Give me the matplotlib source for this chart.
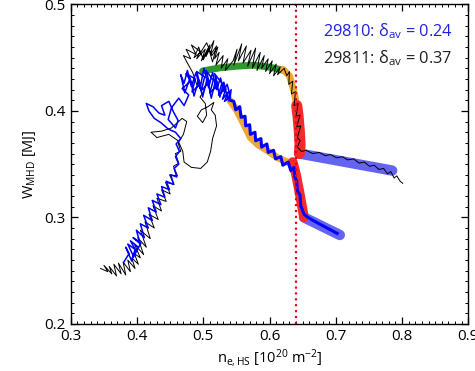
import numpy as np
import matplotlib
matplotlib.use("Agg")
import matplotlib.pyplot as plt
from matplotlib.ticker import MultipleLocator

plt.rcParams['font.family'] = ['Open Sans', 'DejaVu Sans']
plt.rcParams['mathtext.fontset'] = 'custom'
plt.rcParams['mathtext.rm'] = 'Open Sans'
plt.rcParams['mathtext.it'] = 'Open Sans:italic'

# --- smoothed phase bands, shot 29811 (upper branch) ---
green_up_x = [0.499, 0.525, 0.550, 0.576, 0.601, 0.622]
green_up_y = [0.4375, 0.4405, 0.442, 0.443, 0.441, 0.438]
orange_up_x = [0.620, 0.630, 0.637, 0.641, 0.643]
orange_up_y = [0.439, 0.433, 0.418, 0.405, 0.395]
red_up_x = [0.641, 0.643, 0.645, 0.646, 0.645]
red_up_y = [0.405, 0.395, 0.380, 0.368, 0.360]
blue_up_x = [0.645, 0.785]
blue_up_y = [0.360, 0.344]

# --- smoothed phase bands, shot 29810 (lower branch) ---
orange_lo_x = [0.540, 0.550, 0.560, 0.571, 0.583, 0.596, 0.612, 0.635]
orange_lo_y = [0.410, 0.401, 0.389, 0.375, 0.368, 0.363, 0.356, 0.350]
red_lo_x = [0.635, 0.640, 0.645, 0.652]
red_lo_y = [0.352, 0.340, 0.324, 0.300]
blue_lo_x = [0.652, 0.706]
blue_lo_y = [0.300, 0.2835]

# --- raw trace, shot 29811 (black) ---
k_x = [0.345, 0.356, 0.350, 0.362, 0.358, 0.369, 0.365, 0.376, 0.372, 0.383, 0.379, 0.390,
       0.386, 0.397, 0.392, 0.402, 0.396, 0.405,
       0.396, 0.410, 0.401, 0.414, 0.405, 0.420, 0.412, 0.426, 0.418, 0.432, 0.424, 0.437,
       0.430, 0.444, 0.437, 0.450, 0.443, 0.456, 0.449, 0.461, 0.455, 0.463, 0.458, 0.466,
       0.462, 0.470, 0.475, 0.468, 0.452, 0.437, 0.421, 0.430, 0.448, 0.462, 0.469, 0.471,
       0.482, 0.496, 0.506, 0.511, 0.514, 0.520, 0.518, 0.512, 0.516, 0.507, 0.497, 0.491,
       0.499, 0.505, 0.503, 0.495, 0.502, 0.490, 0.484, 0.476, 0.470, 0.481, 0.474, 0.489,
       0.482, 0.495, 0.490, 0.503, 0.497, 0.510, 0.504, 0.516, 0.511, 0.520, 0.514, 0.508,
       0.500, 0.493, 0.486, 0.496, 0.505, 0.513, 0.522, 0.517, 0.524,
       0.519, 0.530, 0.527, 0.537, 0.533, 0.545, 0.551, 0.546, 0.558, 0.553, 0.565, 0.560,
       0.572, 0.567, 0.579, 0.574, 0.586, 0.581, 0.592, 0.588, 0.598, 0.594, 0.604, 0.600,
       0.610, 0.606, 0.616, 0.612, 0.622, 0.626, 0.630, 0.629, 0.635, 0.633, 0.639, 0.637,
       0.643, 0.640, 0.646, 0.641, 0.647, 0.642, 0.646, 0.642, 0.648, 0.655, 0.665, 0.675,
       0.684, 0.692, 0.701, 0.710, 0.718, 0.727, 0.735, 0.743, 0.751, 0.758, 0.765, 0.772,
       0.778, 0.783, 0.788, 0.792, 0.797, 0.801]
k_y = [0.252, 0.249, 0.255, 0.247, 0.254, 0.245, 0.256, 0.247, 0.257, 0.246, 0.258, 0.249,
       0.260, 0.252, 0.262, 0.256, 0.266, 0.262,
       0.275, 0.265, 0.281, 0.272, 0.288, 0.280, 0.296, 0.290, 0.303, 0.298, 0.311, 0.306,
       0.318, 0.315, 0.326, 0.322, 0.333, 0.331, 0.340, 0.339, 0.348, 0.351, 0.360, 0.362,
       0.370, 0.378, 0.390, 0.393, 0.384, 0.381, 0.380, 0.375, 0.378, 0.372, 0.362, 0.352,
       0.347, 0.346, 0.352, 0.362, 0.374, 0.386, 0.396, 0.401, 0.408, 0.404, 0.401, 0.395,
       0.389, 0.396, 0.407, 0.413, 0.420, 0.425, 0.436, 0.445, 0.452, 0.449, 0.458, 0.453,
       0.462, 0.456, 0.449, 0.458, 0.447, 0.462, 0.451, 0.466, 0.453, 0.461, 0.446, 0.459,
       0.448, 0.460, 0.450, 0.455, 0.464, 0.452, 0.460, 0.449, 0.455,
       0.443, 0.452, 0.440, 0.449, 0.438, 0.447, 0.458, 0.443, 0.463, 0.447, 0.461, 0.445,
       0.457, 0.442, 0.459, 0.440, 0.455, 0.438, 0.452, 0.440, 0.449, 0.437, 0.447, 0.435,
       0.444, 0.433, 0.441, 0.434, 0.440, 0.433, 0.437, 0.425, 0.428, 0.416, 0.418, 0.405,
       0.407, 0.395, 0.396, 0.385, 0.386, 0.375, 0.372, 0.366, 0.362, 0.363, 0.360, 0.361,
       0.358, 0.359, 0.356, 0.357, 0.354, 0.355, 0.351, 0.352, 0.348, 0.349, 0.345, 0.346,
       0.341, 0.343, 0.337, 0.339, 0.334, 0.332]

# --- raw trace, shot 29810 (blue): rise and cluster ---
b_x = [0.380, 0.388, 0.383, 0.392, 0.397, 0.386, 0.395, 0.402, 0.390, 0.399, 0.406,
       0.394, 0.405, 0.399, 0.411, 0.405, 0.417,
       0.410, 0.423, 0.417, 0.429, 0.423, 0.436, 0.430, 0.442, 0.437, 0.449, 0.444, 0.455,
       0.451, 0.460, 0.456, 0.463, 0.458, 0.464, 0.459, 0.466, 0.458, 0.447, 0.436, 0.426,
       0.418, 0.414, 0.424, 0.433, 0.442, 0.437, 0.448, 0.455, 0.462, 0.458, 0.447, 0.452,
       0.463, 0.471, 0.478, 0.468, 0.481, 0.474, 0.488, 0.483, 0.495, 0.490, 0.502, 0.497,
       0.509, 0.504, 0.515, 0.510, 0.522, 0.517, 0.528, 0.523, 0.534, 0.529, 0.538, 0.532,
       0.541, 0.536, 0.531, 0.526, 0.520, 0.514, 0.508, 0.501, 0.495, 0.489, 0.482, 0.476,
       0.471, 0.466, 0.472, 0.480, 0.486, 0.493, 0.499, 0.506, 0.512, 0.519, 0.525, 0.531,
       0.537, 0.542, 0.540]
b_y = [0.258, 0.266, 0.272, 0.259, 0.270, 0.275, 0.263, 0.272, 0.278, 0.268, 0.276,
       0.281, 0.275, 0.288, 0.281, 0.294, 0.290,
       0.302, 0.297, 0.309, 0.305, 0.316, 0.312, 0.322, 0.319, 0.329, 0.326, 0.334, 0.331,
       0.340, 0.338, 0.346, 0.350, 0.357, 0.362, 0.369, 0.374, 0.380, 0.383, 0.389, 0.393,
       0.400, 0.407, 0.404, 0.398, 0.396, 0.405, 0.409, 0.399, 0.391, 0.384, 0.392, 0.403,
       0.412, 0.405, 0.415, 0.421, 0.428, 0.435, 0.430, 0.418, 0.425, 0.437, 0.432, 0.419,
       0.427, 0.438, 0.429, 0.417, 0.424, 0.435, 0.426, 0.415, 0.421, 0.411, 0.418, 0.409,
       0.413, 0.425, 0.419, 0.431, 0.420, 0.436, 0.422, 0.440, 0.421, 0.436, 0.423, 0.438,
       0.426, 0.434, 0.417, 0.431, 0.414, 0.429, 0.413, 0.431, 0.412, 0.430, 0.413, 0.427,
       0.411, 0.420, 0.410]

# --- raw trace, shot 29810 (blue): density ramp down ---
bd_x = [0.540, 0.546, 0.549, 0.555, 0.557, 0.563, 0.564, 0.570, 0.571, 0.578, 0.579, 0.587,
        0.588, 0.596, 0.598, 0.606, 0.609, 0.617, 0.620, 0.628, 0.632, 0.637, 0.638, 0.641,
        0.642, 0.646, 0.647, 0.652, 0.658, 0.666, 0.675, 0.684, 0.693, 0.702]
bd_y = [0.410, 0.409, 0.401, 0.404, 0.394, 0.395, 0.386, 0.387, 0.378, 0.380, 0.372, 0.374,
        0.366, 0.369, 0.361, 0.363, 0.355, 0.357, 0.349, 0.352, 0.344, 0.347, 0.338, 0.334,
        0.325, 0.321, 0.311, 0.303, 0.300, 0.297, 0.294, 0.291, 0.288, 0.285]

fig = plt.figure(figsize=(4.75, 3.71), dpi=100)
ax = fig.add_axes([0.149, 0.127, 0.837, 0.861])

band = dict(solid_capstyle='round', solid_joinstyle='round')
ax.plot(blue_up_x, blue_up_y, color='#6464f0', lw=7.5, **band)
ax.plot(blue_lo_x, blue_lo_y, color='#6464f0', lw=7.5, **band)
ax.plot(green_up_x, green_up_y, color='#2e9a2e', lw=5, **band)
ax.plot(orange_up_x, orange_up_y, color='#f2a634', lw=5, **band)
ax.plot(orange_lo_x, orange_lo_y, color='#f2a634', lw=5, **band)
ax.plot(red_up_x, red_up_y, color='#f52a2a', lw=8, **band)
ax.plot(red_lo_x, red_lo_y, color='#f52a2a', lw=7, **band)

ax.plot(k_x, k_y, color='black', lw=0.7)
ax.plot(b_x, b_y, color='#0000ff', lw=1.1)
ax.plot(bd_x, bd_y, color='#0000ff', lw=2.2, solid_joinstyle='round')

ax.axvline(0.64, color='#e8001c', ls=':', lw=1.6)

ax.text(0.68, 0.470, '29810: δ$_{\\rm av}$ = 0.24', color='#2020e0', fontsize=11.8)
ax.text(0.68, 0.445, '29811: δ$_{\\rm av}$ = 0.37', color='#202020', fontsize=11.8)

ax.set_xlim(0.3, 0.9)
ax.set_ylim(0.2, 0.5)
ax.xaxis.set_major_locator(MultipleLocator(0.1))
ax.xaxis.set_minor_locator(MultipleLocator(0.01))
ax.yaxis.set_major_locator(MultipleLocator(0.1))
ax.yaxis.set_minor_locator(MultipleLocator(0.01))
ax.xaxis.set_major_formatter(plt.FormatStrFormatter('%.1f'))
ax.yaxis.set_major_formatter(plt.FormatStrFormatter('%.1f'))
ax.tick_params(which='both', direction='in', top=True, right=True, labelsize=11)
ax.tick_params(which='major', length=5, width=0.9, pad=4)
ax.tick_params(which='minor', length=2.5, width=0.7)
for s in ax.spines.values():
    s.set_linewidth(1.0)

ax.set_xlabel(r'n$_{\rm e,HS}$ [10$^{20}$ m$^{-2}$]', fontsize=10.5, labelpad=2)
ax.set_ylabel(r'W$_{\rm MHD}$ [MJ]', fontsize=10.5, labelpad=4)

fig.savefig('out.png', dpi=100)
